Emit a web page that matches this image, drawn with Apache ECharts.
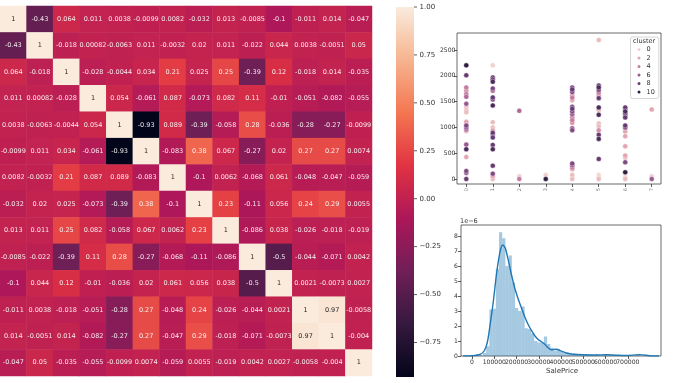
<!DOCTYPE html>
<html>
<head>
<meta charset="utf-8">
<script src="https://cdn.jsdelivr.net/npm/echarts@6/dist/echarts.min.js"></script>
<style>
html,body{margin:0;padding:0;background:#fff;}
#chart{width:680px;height:383px;}
</style>
</head>
<body>
<div id="chart"></div>
<script>
// ---------- Correlation heatmap ----------
const corr = [
  [1, -0.43, 0.064, 0.011, 0.0038, -0.0099, 0.0082, -0.032, 0.013, -0.0085, -0.1, -0.011, 0.014, -0.047],
  [-0.43, 1, -0.018, 0.00082, -0.0063, 0.011, -0.0032, 0.02, 0.011, -0.022, 0.044, 0.0038, -0.0051, 0.05],
  [0.064, -0.018, 1, -0.028, -0.0044, 0.034, 0.21, 0.025, 0.25, -0.39, 0.12, -0.018, 0.014, -0.035],
  [0.011, 0.00082, -0.028, 1, 0.054, -0.061, 0.087, -0.073, 0.082, 0.11, -0.01, -0.051, -0.082, -0.055],
  [0.0038, -0.0063, -0.0044, 0.054, 1, -0.93, 0.089, -0.39, -0.058, 0.28, -0.036, -0.28, -0.27, -0.0099],
  [-0.0099, 0.011, 0.034, -0.061, -0.93, 1, -0.083, 0.38, 0.067, -0.27, 0.02, 0.27, 0.27, 0.0074],
  [0.0082, -0.0032, 0.21, 0.087, 0.089, -0.083, 1, -0.1, 0.0062, -0.068, 0.061, -0.048, -0.047, -0.059],
  [-0.032, 0.02, 0.025, -0.073, -0.39, 0.38, -0.1, 1, 0.23, -0.11, 0.056, 0.24, 0.29, 0.0055],
  [0.013, 0.011, 0.25, 0.082, -0.058, 0.067, 0.0062, 0.23, 1, -0.086, 0.038, -0.026, -0.018, -0.019],
  [-0.0085, -0.022, -0.39, 0.11, 0.28, -0.27, -0.068, -0.11, -0.086, 1, -0.5, -0.044, -0.071, 0.0042],
  [-0.1, 0.044, 0.12, -0.01, -0.036, 0.02, 0.061, 0.056, 0.038, -0.5, 1, 0.0021, -0.0073, 0.0027],
  [-0.011, 0.0038, -0.018, -0.051, -0.28, 0.27, -0.048, 0.24, -0.026, -0.044, 0.0021, 1, 0.97, -0.0058],
  [0.014, -0.0051, 0.014, -0.082, -0.27, 0.27, -0.047, 0.29, -0.018, -0.071, -0.0073, 0.97, 1, -0.004],
  [-0.047, 0.05, -0.035, -0.055, -0.0099, 0.0074, -0.059, 0.0055, -0.019, 0.0042, 0.0027, -0.0058, -0.004, 1]
];
const corrMin = -0.93, corrMax = 1;
const colorbarTicks = [-0.75, -0.5, -0.25, 0, 0.25, 0.5, 0.75, 1];
const rocket = ['#03051a','#35193e','#701f57','#ad1759','#e13342','#f37651','#f6b48f','#faebdd'];

// ---------- Scatter (cluster) ----------
const scatterX = [
  0,0,0,0,0,0,0,0,0,0,0,0,0,0,0,0,0,0,0,0,0,0,
  1,1,1,1,1,1,1,1,1,1,1,1,1,1,1,1,1,1,1,1,1,
  2,2,2,
  3,3,
  4,4,4,4,4,4,4,4,4,4,4,4,4,4,4,4,4,4,4,4,4,4,
  5,5,5,5,5,5,5,5,5,5,5,5,5,5,5,5,5,5,5,
  6,6,6,6,6,6,6,6,6,6,6,6,6,6,6,6,6,6,
  7,7,7
];
const scatterY = [
  2202,2008,1775,1710,1645,1593,1457,1386,1334,1295,1107,1062,1036,997,958,932,667,576,427,155,117,0,
  2202,1969,1930,1885,1755,1710,1580,1541,1425,1101,997,945,894,855,803,661,576,259,104,52,0,
  1321,52,0,
  78,0,
  1775,1735,1684,1619,1574,1528,1399,1360,1308,1256,1192,1140,1088,984,945,300,265,220,190,78,39,0,
  2694,1813,1775,1723,1671,1619,1567,1386,1334,1243,1075,1023,945,855,777,388,78,39,0,
  1386,1347,1308,1269,1230,1192,1036,997,958,919,829,635,453,414,324,130,39,0,
  1347,52,0
];
const scatterCluster = [
  10,8,4,3,4,5,6,1,1,1,2,1,7,6,5,2,6,9,2,7,6,8,
  0,8,8,9,7,5,8,7,9,1,1,2,8,7,8,8,9,8,7,2,1,
  5,0,4,
  0,10,
  7,8,7,3,4,2,7,8,7,6,4,4,3,6,7,7,6,4,2,1,0,1,
  1,8,9,7,4,3,8,9,1,9,1,1,3,8,9,8,0,0,1,
  8,7,9,8,7,8,8,7,1,2,2,2,2,1,7,10,0,1,
  2,0,6
];
const clusterIds = [0,1,2,3,4,5,6,7,8,9,10];
const clusterLegend = ['0','2','4','6','8','10'];
const clusterColors = ['#efd1cd','#e9bcbd','#e2a5b1','#d590a7','#c47c9f','#b06897','#985990','#7f4a84','#663a72','#4b2b5b','#2d1e3e'];
const scatterXTickRange = [0, 7, 1];      // first, last, step
const scatterYTickRange = [0, 2500, 500];

// ---------- SalePrice histogram + KDE (density x 1e-6) ----------
const histStart = 34900, histBinWidth = 14402;
const histHeights = [
  0.05,0.2,0.65,3.1,3.15,5.8,8.25,7.85,6.0,6.7,
  4.9,3.2,3.0,3.3,1.85,1.8,1.5,1.0,0.9,0.9,
  1.3,0.8,0.55,0.35,0.45,0.3,0.2,0.22,0.12,0.15,
  0.08,0.1,0.06,0.08,0.07,0.05,0.1,0.05,0.07,0.06,
  0.04,0.0,0.03,0.05,0.02,0.0,0.03,0.0,0.05,0.1
];
const kdeX = [-40000,0,35800,55200,68700,80600,95500,110400,125400,137300,149300,162700,177600,192500,207500,222400,237300,252200,267200,282100,297000,311900,326900,341800,356700,379100,401500,423900,453700,498500,558200,603000,647800,692500,752200,797000,819400,840000];
const kdeY = [0,0.02,0.1,0.35,0.9,2.0,3.6,5.5,6.9,7.4,7.2,6.4,5.4,4.5,3.8,3.2,2.6,2.1,1.7,1.35,1.1,0.95,0.78,0.55,0.42,0.45,0.32,0.2,0.12,0.08,0.07,0.08,0.05,0.03,0.09,0.02,0.0,0.0];
const histXTickRange = [0, 800000, 100000];
const histYTickRange = [0, 8, 1];

// ---------- Layout of the panels (pixels) ----------
const FONT = 'DejaVu Sans';
const heatBox = { left: -1, top: 6, width: 373, height: 370 };
const cbBox = { left: 396, top: 7, width: 18, height: 370 };
const scBox = { left: 457, top: 33, width: 204, height: 151, xMin: -0.35, xMax: 7.35, yMin: -97, yMax: 2829 };
const hiBox = { left: 461, top: 225, width: 200, height: 131, xMin: -49400, xMax: 849000, yMin: 0, yMax: 8.73 };

function xpx(b, v) { return b.left + (v - b.xMin) / (b.xMax - b.xMin) * b.width; }
function ypx(b, v) { return b.top + b.height - (v - b.yMin) / (b.yMax - b.yMin) * b.height; }

const smallTxt = { fontFamily: FONT, fontSize: 6.1, color: '#333', hideOverlap: false };
const tickStyle = { show: true, length: 3, lineStyle: { color: '#333', width: 0.8 } };
const hidden = { show: false };
const minus = s => s.replace('-', '\u2212');

const grids = [], xAxes = [], yAxes = [];
function addGrid(g, xa, ya) {
  const i = grids.length;
  grids.push(g);
  xAxes.push(Object.assign({ gridIndex: i }, xa));
  yAxes.push(Object.assign({ gridIndex: i }, ya));
  return i;
}

const idx14 = corr.map((_, i) => String(i));
const gHeat = addGrid(Object.assign({}, heatBox),
  { type: 'category', data: idx14, show: false },
  { type: 'category', data: idx14, inverse: true, show: false });

const gCb = addGrid(Object.assign({}, cbBox),
  { type: 'value', show: false, min: 0, max: 1 },
  { type: 'value', show: false, min: corrMin, max: corrMax });

const gSc = addGrid({ left: scBox.left, top: scBox.top, width: scBox.width, height: scBox.height,
    show: true, borderColor: '#444', borderWidth: 0.8, backgroundColor: 'transparent' },
  { type: 'value', min: scBox.xMin, max: scBox.xMax, show: false },
  { type: 'value', min: scBox.yMin, max: scBox.yMax, show: false });
const sx0 = xpx(scBox, scatterXTickRange[0]), sx1 = xpx(scBox, scatterXTickRange[1]);
addGrid({ left: sx0, width: sx1 - sx0, top: scBox.top, height: scBox.height },
  { type: 'value', min: scatterXTickRange[0], max: scatterXTickRange[1], interval: scatterXTickRange[2],
    axisLine: hidden, splitLine: hidden, axisTick: tickStyle,
    axisLabel: Object.assign({}, smallTxt, { fontSize: 5, rotate: 90, margin: 4, color: '#777' }) },
  { type: 'value', show: false, min: 0, max: 1 });
const sy1 = ypx(scBox, scatterYTickRange[1]), sy0 = ypx(scBox, scatterYTickRange[0]);
addGrid({ left: scBox.left, width: scBox.width, top: sy1, height: sy0 - sy1 },
  { type: 'value', show: false, min: 0, max: 1 },
  { type: 'value', min: scatterYTickRange[0], max: scatterYTickRange[1], interval: scatterYTickRange[2],
    axisLine: hidden, splitLine: hidden, axisTick: tickStyle,
    axisLabel: Object.assign({}, smallTxt, { margin: 1.5, formatter: v => String(v) }) });

const gHi = addGrid({ left: hiBox.left, top: hiBox.top, width: hiBox.width, height: hiBox.height,
    show: true, borderColor: '#444', borderWidth: 0.8, backgroundColor: 'transparent' },
  { type: 'value', min: hiBox.xMin, max: hiBox.xMax, show: false },
  { type: 'value', min: hiBox.yMin, max: hiBox.yMax, show: false });
const hx0 = xpx(hiBox, histXTickRange[0]), hx1 = xpx(hiBox, histXTickRange[1]);
addGrid({ left: hx0, width: hx1 - hx0, top: hiBox.top, height: hiBox.height },
  { type: 'value', min: histXTickRange[0], max: histXTickRange[1], interval: histXTickRange[2],
    axisLine: hidden, splitLine: hidden, axisTick: tickStyle,
    axisLabel: Object.assign({}, smallTxt, { margin: 3, formatter: v => String(v) }) },
  { type: 'value', show: false, min: 0, max: 1 });
const hy1 = ypx(hiBox, histYTickRange[1]), hy0 = ypx(hiBox, histYTickRange[0]);
addGrid({ left: hiBox.left, width: hiBox.width, top: hy1, height: hy0 - hy1 },
  { type: 'value', show: false, min: 0, max: 1 },
  { type: 'value', min: histYTickRange[0], max: histYTickRange[1], interval: histYTickRange[2],
    axisLine: hidden, splitLine: hidden, axisTick: tickStyle,
    axisLabel: Object.assign({}, smallTxt, { margin: 3, formatter: v => String(v) }) });

// ---------- Series ----------
const heatData = [];
corr.forEach((row, r) => row.forEach((v, c) => {
  heatData.push({ value: [c, r, v], label: { color: v >= 0.9 ? '#262626' : 'rgba(255,255,255,0.9)' } });
}));

const scatterSeries = clusterIds.map((cl, i) => ({
  type: 'scatter', name: String(cl), xAxisIndex: gSc, yAxisIndex: gSc,
  symbolSize: 5,
  itemStyle: { color: clusterColors[i], borderColor: '#fff', borderWidth: 0.4, opacity: 1 },
  data: scatterX.map((x, k) => [x, scatterY[k], scatterCluster[k]]).filter(d => d[2] === cl),
  z: 3
}));

const histData = histHeights.map((h, i) => [histStart + i * histBinWidth, histStart + (i + 1) * histBinWidth, h]);
const kdeData = kdeX.map((x, i) => [x, kdeY[i]]);
const helperSeries = grids.map((g, i) => ({ type: 'line', xAxisIndex: i, yAxisIndex: i, data: [], silent: true }));

const cbStops = rocket.slice().reverse().map((c, i, a) => ({ offset: i / (a.length - 1), color: c }));

const chart = echarts.init(document.getElementById('chart'), null, { renderer: 'canvas' });
chart.setOption({
  animation: false,
  backgroundColor: '#fff',
  textStyle: { fontFamily: FONT },
  grid: grids,
  xAxis: xAxes,
  yAxis: yAxes,
  visualMap: [{
    type: 'continuous', seriesIndex: 0, min: corrMin, max: corrMax,
    inRange: { color: rocket }, show: false
  }],
  legend: {
    data: clusterLegend, selectedMode: false, orient: 'vertical',
    left: 630.5, top: 37, padding: [9, 4, 3, 5],
    itemWidth: 5, itemHeight: 5, itemGap: 1.5, icon: 'circle',
    borderColor: '#ccc', borderWidth: 0.8, borderRadius: 2, backgroundColor: 'rgba(255,255,255,0.9)',
    textStyle: { fontFamily: FONT, fontSize: 6.5, color: '#333' }
  },
  graphic: [
    { type: 'text', left: 633, top: 37.5, z: 100,
      style: { text: 'cluster', font: '6.5px "DejaVu Sans"', fill: '#333' } },
    { type: 'text', left: 460, top: 218, z: 100,
      style: { text: '1e\u22126', font: '6.5px "DejaVu Sans"', fill: '#333' } },
    { type: 'text', left: 546, top: 368, z: 100,
      style: { text: 'SalePrice', font: '7px "DejaVu Sans"', fill: '#333' } }
  ],
  series: [
    {
      type: 'heatmap', xAxisIndex: gHeat, yAxisIndex: gHeat, data: heatData,
      label: { show: true, fontFamily: FONT, fontSize: 6.5,
        formatter: p => String(Number(p.value[2].toPrecision(2))) },
      itemStyle: { borderWidth: 0 },
      emphasis: { disabled: true }
    },
    {
      // colorbar gradient spanning corrMin..corrMax
      type: 'custom', xAxisIndex: gCb, yAxisIndex: gCb, silent: true, clip: false,
      data: [[0, corrMax, 1, corrMin]],
      encode: { x: [0, 2], y: [1, 3] },
      renderItem: (params, api) => {
        const a = api.coord([api.value(0), api.value(1)]);
        const b = api.coord([api.value(2), api.value(3)]);
        return { type: 'rect', shape: { x: a[0], y: a[1], width: b[0] - a[0], height: b[1] - a[1] },
          style: { fill: new echarts.graphic.LinearGradient(0, 0, 0, 1, cbStops) } };
      }
    },
    {
      // colorbar ticks and labels
      type: 'custom', xAxisIndex: gCb, yAxisIndex: gCb, silent: true, clip: false, z: 5,
      data: colorbarTicks.map(v => [1, v]),
      encode: { x: 0, y: 1 },
      renderItem: (params, api) => {
        const p = api.coord([api.value(0), api.value(1)]);
        return { type: 'group', children: [
          { type: 'line', shape: { x1: p[0], y1: p[1], x2: p[0] + 3, y2: p[1] },
            style: { stroke: '#333', lineWidth: 0.8 } },
          { type: 'text', x: p[0] + 5.5, y: p[1],
            style: { text: minus(api.value(1).toFixed(2)), fill: '#333',
              font: '7px "DejaVu Sans"', verticalAlign: 'middle', align: 'left' } }
        ] };
      }
    },
    ...scatterSeries,
    {
      type: 'custom', xAxisIndex: gHi, yAxisIndex: gHi, data: histData,
      encode: { x: [0, 1], y: 2 }, clip: true,
      renderItem: (params, api) => {
        const p0 = api.coord([api.value(0), 0]);
        const p1 = api.coord([api.value(1), api.value(2)]);
        return { type: 'rect', shape: { x: p0[0], y: p1[1], width: p1[0] - p0[0], height: p0[1] - p1[1] },
          style: { fill: 'rgba(31,119,180,0.4)' } };
      }
    },
    {
      type: 'line', xAxisIndex: gHi, yAxisIndex: gHi, data: kdeData, smooth: 0.3,
      symbol: 'none', lineStyle: { color: '#1f77b4', width: 1.4 }, clip: true, z: 4
    },
    ...helperSeries
  ]
});
</script>
</body>
</html>
